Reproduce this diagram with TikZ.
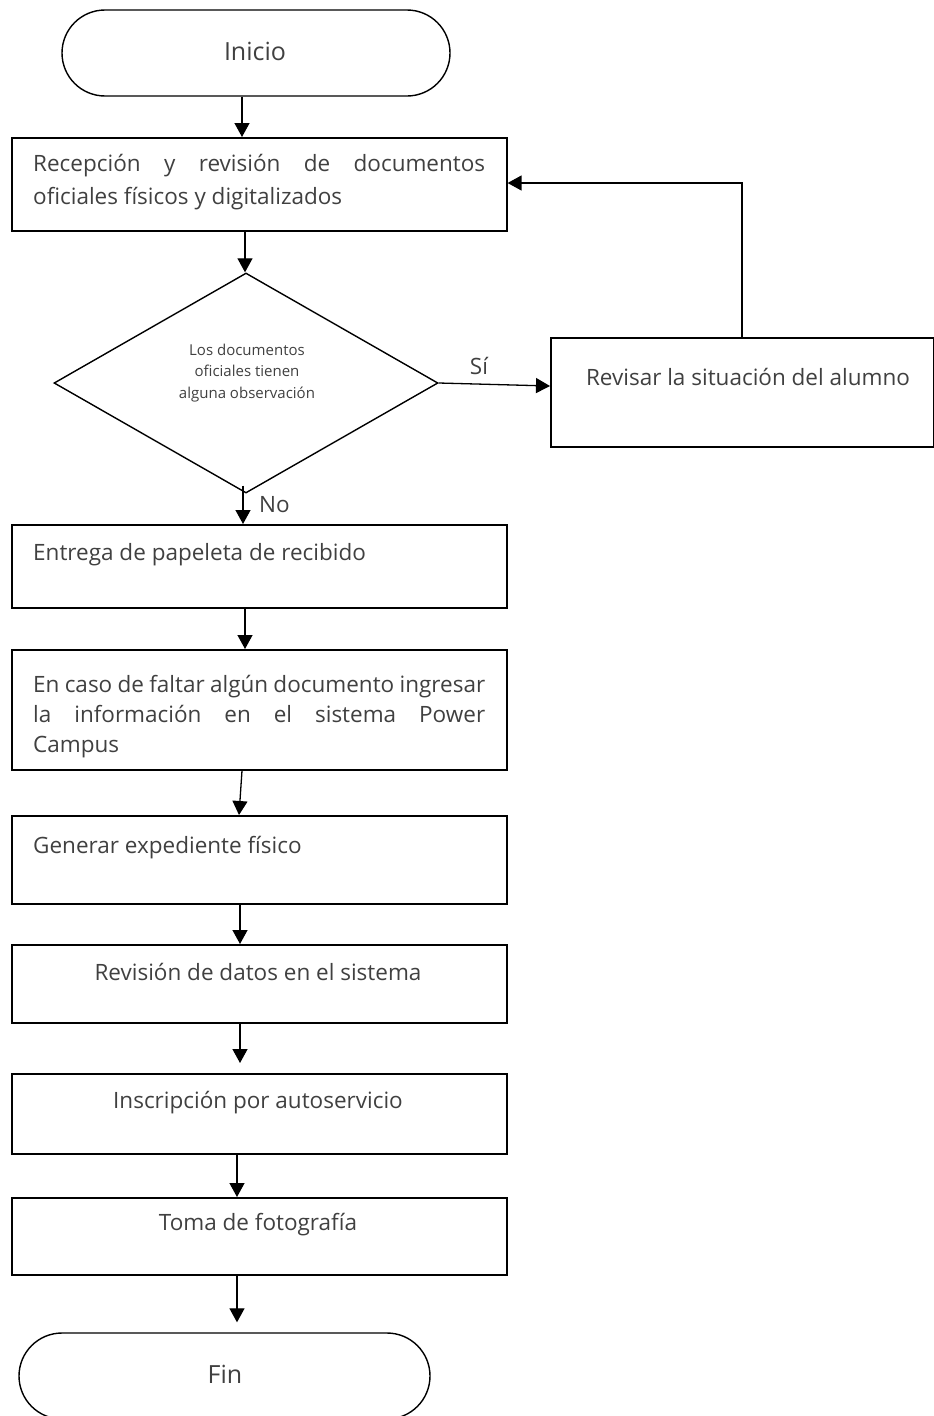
\documentclass[tikz,border=0pt]{standalone}
\usepackage{fontspec}
\setmainfont{Open Sans}
\usetikzlibrary{arrows.meta,shapes.misc,shapes.geometric,calc}
\definecolor{txtgray}{HTML}{404040}
\tikzset{
  stepbox/.style={draw=black, line width=1.6pt, rectangle, anchor=north west, inner sep=0pt, minimum width=495pt},
  terminal/.style={draw=black, line width=1.4pt, rounded rectangle, inner sep=0pt, minimum height=86pt},
  decision/.style={draw=black, line width=1.4pt, diamond, inner sep=0pt, minimum width=384pt, minimum height=220pt},
  txt/.style={text=txtgray, inner sep=0pt, font=\fontsize{22.5}{31}\selectfont},
  bigtxt/.style={text=txtgray, inner sep=0pt, font=\fontsize{25}{30}\selectfont},
  smalltxt/.style={text=txtgray, inner sep=0pt, font=\fontsize{15}{21.5}\selectfont, align=center},
  arr/.style={draw=black, line width=1.3pt, -{Triangle[length=14pt,width=15pt]}},
}
\begin{document}
\begin{tikzpicture}[x=1pt,y=-1pt]
\useasboundingbox (0,0) rectangle (934,1416);

% terminals
\node[terminal, minimum width=388pt] (ini) at (256,53) {};
\node[bigtxt, anchor=base] (tini) at (255,60) {Inicio};
\node[terminal, minimum width=411pt] (fin) at (224.5,1376) {};
\node[bigtxt, anchor=base] (tfin) at (225,1383) {Fin};

% process boxes (multi-line texts are anchored at the baseline of their last line)
\node[stepbox, minimum height=93pt] (b1) at (11,137) {};
\node[txt, anchor=base west, align=left, font=\fontsize{22.5}{33}\selectfont] (t1) at (33,204)
  {\makebox[452pt][s]{Recepción y revisión de documentos}\\oficiales físicos y digitalizados};

\node[decision] (dia) at (246,383) {};
\node[smalltxt, anchor=base] (tdia) at (247,398)
  {Los documentos\\oficiales tienen\\alguna observación};

\node[draw=black, line width=1.6pt, rectangle, anchor=north west, inner sep=0pt,
      minimum width=382.5pt, minimum height=109pt] (rev) at (550,337) {};
\node[txt, anchor=base] (trev) at (748,385) {Revisar la situación del alumno};

\node[stepbox, minimum height=83pt] (b3) at (11,524) {};
\node[txt, anchor=base west] (t3) at (33,560) {Entrega de papeleta de recibido};

\node[stepbox, minimum height=120pt] (b4) at (11,649) {};
\node[txt, anchor=base west, align=left, font=\fontsize{22.5}{30}\selectfont] (t4) at (33,752)
  {\makebox[452pt][s]{En caso de faltar algún documento ingresar}\\
   \makebox[452pt][s]{la información en el sistema Power}\\Campus};

\node[stepbox, minimum height=88pt] (b5) at (11,815) {};
\node[txt, anchor=base west] (t5) at (33,853) {Generar expediente físico};

\node[stepbox, minimum height=78pt] (b6) at (11,944) {};
\node[txt, anchor=base] (t6) at (258,980) {Revisión de datos en el sistema};

\node[stepbox, minimum height=80pt] (b7) at (11,1073) {};
\node[txt, anchor=base] (t7) at (258,1108) {Inscripción por autoservicio};

\node[stepbox, minimum height=77pt] (b8) at (11,1197) {};
\node[txt, anchor=base] (t8) at (258,1230) {Toma de fotografía};

% connector end points on the box edges
\coordinate (s0) at ([xshift=-14pt]ini.south);
\coordinate (s1) at ($(b1.south west)+(234,0)$);
\coordinate (sno) at ($(dia.south)+(-3,-8)$);
\coordinate (s3) at ($(b3.south west)+(234,0)$);
\coordinate (s4) at ($(b4.south west)+(231,0)$);
\coordinate (e5) at ($(b5.north west)+(228,0)$);
\coordinate (s5) at ($(b5.south west)+(229,0)$);
\coordinate (s6) at ($(b6.south west)+(229,0)$);
\coordinate (s7) at ($(b7.south west)+(226,0)$);
\coordinate (s8) at ($(b8.south west)+(226,0)$);
\coordinate (esi) at ($(rev.north west)+(0,49)$);
\coordinate (eback) at ($(b1.north east)+(0,46)$);

% connectors
\draw[arr] (s0) -- (s0 |- b1.north);
\draw[arr] (s1) -- (s1 |- dia.north);
\draw[arr] (dia.east) -- (esi);
\node[txt, anchor=base] (lsi) at (479,374) {Sí};
\draw[arr] (rev.north) |- (eback);
\draw[arr] (sno) -- (sno |- b3.north);
\node[txt, anchor=base west] (lno) at (259,512) {No};
\draw[arr] (s3) -- (s3 |- b4.north);
\draw[arr] (s4) -- (e5);
\draw[arr] (s5) -- (s5 |- b6.north);
\draw[arr] (s6) -- ([yshift=10pt]s6 |- b7.north);
\draw[arr] (s7) -- (s7 |- b8.north);
\draw[arr] (s8) -- ([yshift=10pt]s8 |- fin.north);
\end{tikzpicture}
\end{document}
